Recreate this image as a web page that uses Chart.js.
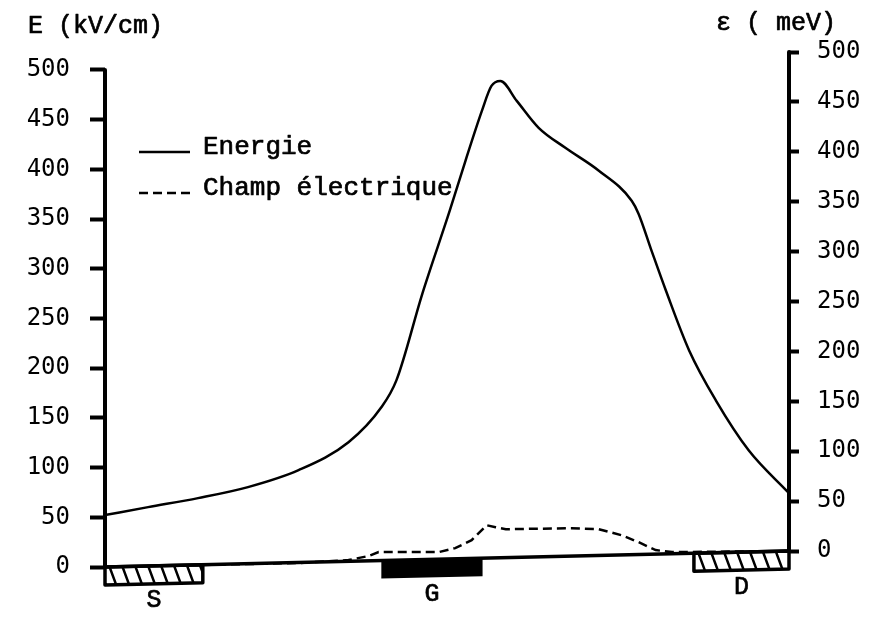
<!DOCTYPE html>
<html>
<head>
<meta charset="utf-8">
<script src="https://cdn.jsdelivr.net/npm/chart.js@4.4.1/dist/chart.umd.min.js"></script>
<style>
  html, body { margin: 0; padding: 0; background: #fff; }
</style>
</head>
<body>
<canvas id="chart" width="878" height="618"></canvas>
<script>
// position along the channel (arbitrary units: source edge = 0, drain edge = 10)
const energyX   = [0, 0.63, 1.36, 2.09, 2.83, 3.56, 4.04, 4.26, 4.64, 5.04, 5.27, 5.51, 5.65, 5.78, 6.02, 6.34, 6.73, 7.22, 7.70, 7.80, 7.99, 8.20, 8.54, 8.93, 9.41, 10];
const energyMeV = [36, 44, 53, 64, 81, 109, 144, 171, 258, 341, 391, 441, 466, 471, 451, 424, 404, 381, 351, 338, 301, 261, 201, 151, 101, 58];

const fieldX     = [0, 1.36, 2.83, 3.56, 3.85, 4.00, 4.88, 5.12, 5.36, 5.58, 5.71, 5.86, 6.82, 7.22, 7.55, 7.80, 8.05, 8.29, 10];
const fieldKVcm  = [0, 2, 4, 7, 11, 15, 15, 19, 27, 42, 40, 38, 39, 38, 32, 25, 17, 15, 16];

const tickValues = [0, 50, 100, 150, 200, 250, 300, 350, 400, 450, 500];

const contactNames   = ['S', 'G', 'D'];
const contactStart   = [0, 4.04, 8.61];
const contactEnd     = [1.43, 5.52, 10];
const contactHatched = [true, false, true];

const leftTitle  = 'E (kV/cm)';
const rightTitle = '\u03b5 ( meV)';

const monoFont = '"Liberation Mono", "DejaVu Sans Mono", monospace';
const tickFont = { family: '"DejaVu Sans Mono", monospace', size: 24 };

const toPoints = (xs, ys) => xs.map((x, i) => ({ x: x, y: ys[i] }));

// typewriter text is a bit heavier than Liberation Mono
function typeText(ctx, txt, x, y) {
  ctx.fillText(txt, x, y);
  ctx.lineWidth = 0.7;
  ctx.strokeText(txt, x, y);
}

// axis lines, baseline, contacts, titles and legend
const decorPlugin = {
  id: 'decor',
  afterDatasetsDraw(chart) {
    const ctx = chart.ctx;
    const xs = chart.scales.x, yl = chart.scales.yL, yr = chart.scales.yR;
    const x0 = xs.getPixelForValue(0), x1 = xs.getPixelForValue(10);
    const b0 = yl.getPixelForValue(0), b1 = yr.getPixelForValue(0);
    const baseAt = px => b0 + (b1 - b0) * (px - x0) / (x1 - x0);

    ctx.save();
    ctx.strokeStyle = '#000';
    ctx.fillStyle = '#000';
    ctx.lineCap = 'round';
    ctx.lineJoin = 'round';

    // vertical axes
    ctx.lineWidth = 4;
    ctx.beginPath();
    ctx.moveTo(x0, yl.getPixelForValue(500));
    ctx.lineTo(x0, b0);
    ctx.moveTo(x1, yr.getPixelForValue(500));
    ctx.lineTo(x1, b1);
    ctx.stroke();

    // baseline joining both zeros
    ctx.lineWidth = 3.5;
    ctx.beginPath();
    ctx.moveTo(x0, b0);
    ctx.lineTo(x1, b1);
    ctx.stroke();

    // contacts
    const boxH = 18;
    ctx.font = '25px ' + monoFont;
    ctx.textAlign = 'center';
    ctx.textBaseline = 'middle';
    contactNames.forEach((name, i) => {
      const a = xs.getPixelForValue(contactStart[i]);
      const b = xs.getPixelForValue(contactEnd[i]);
      const ta = baseAt(a), tb = baseAt(b);
      const box = () => {
        ctx.beginPath();
        ctx.moveTo(a, ta);
        ctx.lineTo(b, tb);
        ctx.lineTo(b, tb + boxH);
        ctx.lineTo(a, ta + boxH);
        ctx.closePath();
      };
      box();
      if (contactHatched[i]) {
        ctx.save();
        ctx.clip();
        ctx.lineWidth = 2.5;
        ctx.beginPath();
        for (let hx = a - 10; hx < b + 10; hx += 13) {
          ctx.moveTo(hx, Math.min(ta, tb) - 2);
          ctx.lineTo(hx + 9, Math.max(ta, tb) + boxH + 2);
        }
        ctx.stroke();
        ctx.restore();
        box();
        ctx.lineWidth = 3.5;
        ctx.stroke();
      } else {
        ctx.fill();
      }
      typeText(ctx, name, (a + b) / 2, (ta + tb) / 2 + boxH + 17);
    });

    // axis titles
    ctx.textAlign = 'left';
    typeText(ctx, leftTitle, 28, 26);
    typeText(ctx, rightTitle, 716, 23);

    // legend
    ctx.font = '26px ' + monoFont;
    chart.data.datasets.forEach((ds, i) => {
      const rowY = 147 + i * 41;
      ctx.lineWidth = ds.borderWidth;
      ctx.lineCap = 'butt';
      ctx.setLineDash(ds.borderDash || []);
      ctx.beginPath();
      ctx.moveTo(139, rowY + 5);
      ctx.lineTo(190, rowY + 5);
      ctx.stroke();
      ctx.setLineDash([]);
      typeText(ctx, ds.label, 203, rowY);
    });
    ctx.restore();
  }
};

new Chart(document.getElementById('chart'), {
  type: 'line',
  data: {
    datasets: [
      {
        label: 'Energie',
        data: toPoints(energyX, energyMeV),
        yAxisID: 'yR',
        borderColor: '#000',
        borderWidth: 2.5,
        pointRadius: 0,
        cubicInterpolationMode: 'monotone'
      },
      {
        label: 'Champ \u00e9lectrique',
        data: toPoints(fieldX, fieldKVcm),
        yAxisID: 'yL',
        borderColor: '#000',
        borderWidth: 2.5,
        borderDash: [9, 5],
        pointRadius: 0,
        tension: 0
      }
    ]
  },
  options: {
    responsive: false,
    animation: false,
    layout: { padding: { top: 52, bottom: 51, left: 0, right: 0 } },
    plugins: { legend: { display: false }, tooltip: { enabled: false } },
    scales: {
      x: { type: 'linear', min: 0, max: 10, display: false },
      yL: {
        type: 'linear',
        position: 'left',
        min: 0,
        max: 518,
        afterBuildTicks: s => { s.ticks = tickValues.map(v => ({ value: v })); },
        afterFit: s => { s.width = 105; },
        ticks: { font: tickFont, color: '#000', padding: 20 },
        grid: { drawOnChartArea: false, tickLength: 15, tickWidth: 4, tickColor: '#000' },
        border: { display: false }
      },
      yR: {
        type: 'linear',
        position: 'right',
        min: -16,
        max: 500,
        afterBuildTicks: s => { s.ticks = tickValues.map(v => ({ value: v })); },
        afterFit: s => { s.width = 89; },
        ticks: { font: tickFont, color: '#000', padding: 18 },
        grid: { drawOnChartArea: false, tickLength: 10, tickWidth: 4, tickColor: '#000' },
        border: { display: false }
      }
    }
  },
  plugins: [decorPlugin]
});
</script>
</body>
</html>
